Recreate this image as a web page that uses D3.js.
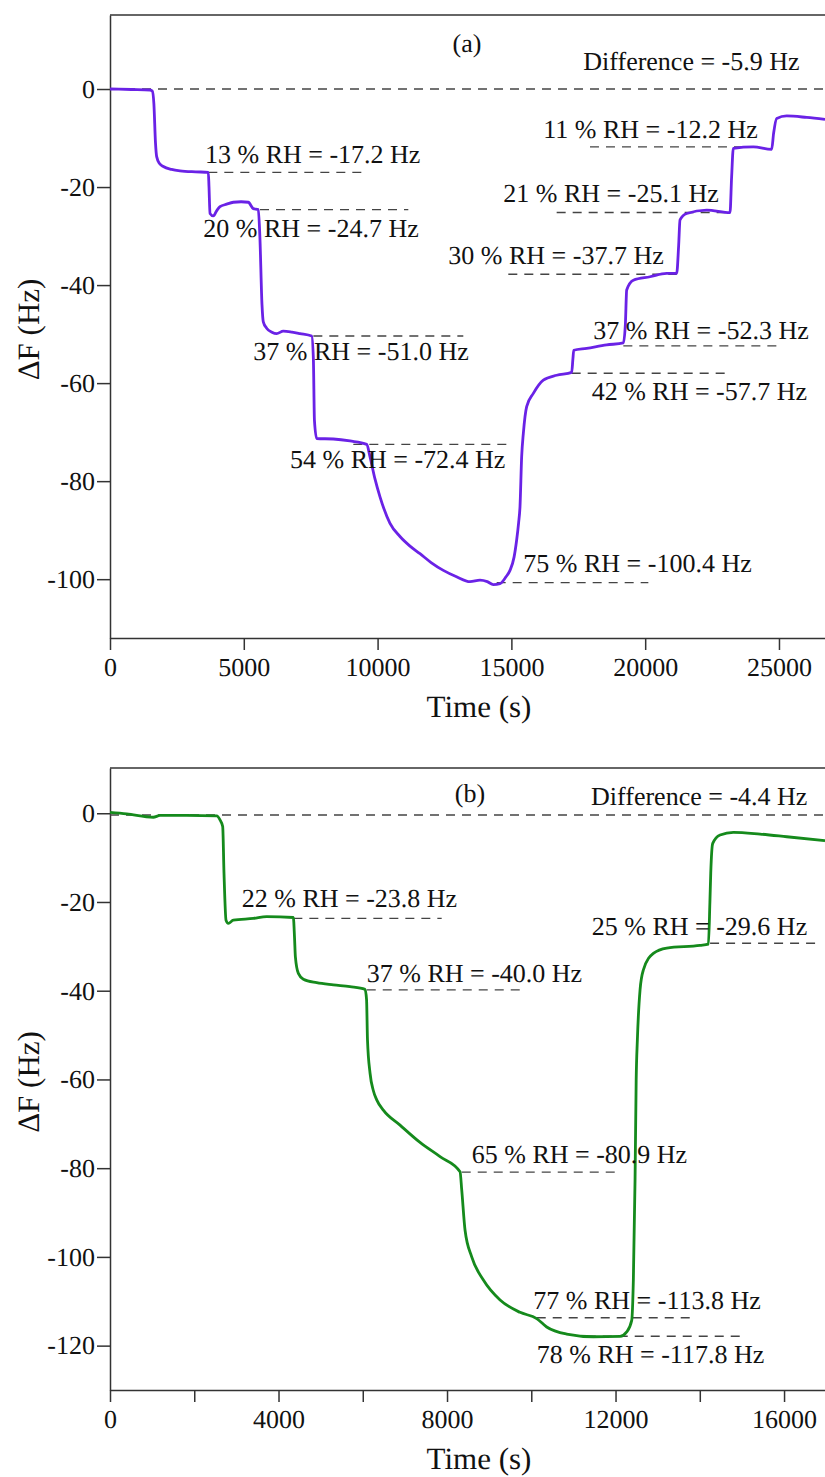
<!DOCTYPE html>
<html>
<head>
<meta charset="utf-8">
<script src="https://cdn.jsdelivr.net/npm/d3@7"></script>
<style>
  body { margin: 0; background: #fff; }
  svg { display: block; }
  svg text { font-family: "Liberation Serif", "DejaVu Serif", "Times New Roman", serif; fill: #111; }
  .axis path, .axis line { stroke: #333; stroke-width: 1.5; }
  .axis text { font-size: 26px; }
</style>
</head>
<body>
<div id="chart"></div>
<script>
// ---- panel (a) : time (s) vs frequency shift (Hz)
const timeA = [0, 800, 1500, 1580, 1640, 1700, 1744, 1850, 1993, 2300, 2616, 3200, 3674, 3700, 3737, 3861,
  3990, 4111, 4360, 4609, 4900, 5168, 5355, 5542, 5600, 5680, 5729, 5854, 6050, 6229, 6476, 6800, 7100,
  7537, 7600, 7640, 7724, 8346, 8969, 9593, 9716, 9900, 10090, 10464, 10837, 11200, 11585, 12000, 12457,
  12950, 13454, 13827, 14100, 14325, 14575, 14800, 14948, 15100, 15197, 15270, 15322, 15384, 15446, 15571,
  15820, 16193, 16692, 17253, 17300, 17330, 17813, 18561, 19184, 19260, 19309, 19558, 20181, 20804, 21178,
  21250, 21302, 21551, 22299, 23170, 23230, 23294, 24041, 24727, 24800, 24914, 25288, 26036, 26720]
const dfA = [0, -0.1, -0.2, -0.4, -3, -11, -13.8, -15.2, -15.8, -16.4, -16.7, -16.9, -17.0, -20, -25.4, -25.9,
  -24.8, -24.0, -23.5, -23.1, -23.0, -23.1, -24.4, -24.6, -30, -44, -47.5, -48.8, -49.6, -49.9, -49.4, -49.6, -49.9,
  -50.4, -55, -67.6, -71.3, -71.4, -71.8, -72.5, -75.0, -79.5, -83.2, -88.6, -91.3, -93.2, -94.8, -96.6, -98.2,
  -99.5, -100.5, -100.2, -100.5, -101.1, -100.9, -99.5, -98.2, -95.5, -92.0, -88.5, -85.2, -75.0, -70.3, -64.8,
  -62.1, -59.4, -58.4, -57.8, -55, -53.3, -52.9, -52.2, -51.8, -48, -41.0, -39.0, -38.3, -37.6, -37.6,
  -32, -26.7, -25.4, -24.7, -25.2, -18, -12.1, -11.8, -12.3, -9, -6.0, -5.5, -5.8, -6.2]

// ---- panel (b)
const timeB = [0, 395, 1028, 1187, 1820, 2533, 2611, 2675, 2706, 2754, 2809, 2928, 3403, 3719, 4352, 4380,
  4400, 4471, 4590, 4906, 5302, 5697, 6054, 6090, 6112, 6173, 6250, 6331, 6488, 6885, 7359, 7834, 8309,
  8349, 8428, 8586, 8863, 9259, 9733, 10129, 10366, 10841, 11474, 12107, 12265, 12384, 12423, 12463, 12490,
  12518, 12582, 12661, 12898, 13215, 14006, 14204, 14240, 14260, 14307, 14481, 14797, 15431, 16064, 16972]
const dfB = [0.2, -0.15, -0.9, -0.5, -0.5, -0.6, -1.5, -3.0, -13.5, -24.1, -24.8, -24.1, -23.7, -23.3, -23.5, -28,
  -32.3, -36.1, -37.4, -38.2, -38.7, -39.1, -39.7, -42, -51.1, -58.6, -62.5, -64.6, -66.9, -70.3, -74.2, -77.4, -80.8,
  -84.9, -94.0, -100.0, -105.2, -109.7, -112.5, -113.9, -115.8, -117.4, -118.0, -117.9, -116.9, -114.3, -105.2, -82.7, -60.1,
  -51.1, -39.8, -35.3, -31.6, -30.4, -29.8, -29.5, -20, -13.5, -6.8, -4.9, -4.3, -4.7, -5.3, -6.2]

// dashed reference levels: level (Hz), from t0 to t1 (s)
const refsA = [
  {v: 0, t0: 0, t1: 26720}, {v: -17.0, t0: 3674, t1: 9540}, {v: -24.6, t0: 5606, t1: 11148},
  {v: -50.4, t0: 7599, t1: 13203}, {v: -72.5, t0: 9093, t1: 14948}, {v: -100.7, t0: 14450, t1: 20118},
  {v: -58.0, t0: 17253, t1: 23045}, {v: -52.4, t0: 19184, t1: 24975}, {v: -37.8, t0: 14885, t1: 21178},
  {v: -25.2, t0: 16692, t1: 23170}, {v: -11.8, t0: 17937, t1: 23667}
]
const refsB = [
  {v: -0.4, t0: 0, t1: 16972}, {v: -23.7, t0: 4352, t1: 7873}, {v: -39.8, t0: 6094, t1: 9733},
  {v: -80.9, t0: 8349, t1: 12028}, {v: -113.7, t0: 10129, t1: 13848}, {v: -117.9, t0: 11316, t1: 14996},
  {v: -29.3, t0: 14244, t1: 16776}
]

// annotation text, anchored (left / baseline) at data point t, v
const notesA = [
  {text: "Difference = -5.9 Hz", t: 17687, v: 3.9},
  {text: "13 % RH = -17.2 Hz", t: 3550, v: -15.0},
  {text: "20 % RH = -24.7 Hz", t: 3487, v: -30.1},
  {text: "37 % RH = -51.0 Hz", t: 5355, v: -55.3},
  {text: "54 % RH = -72.4 Hz", t: 6727, v: -77.4},
  {text: "75 % RH = -100.4 Hz", t: 15445, v: -98.5},
  {text: "42 % RH = -57.7 Hz", t: 18000, v: -63.5},
  {text: "37 % RH = -52.3 Hz", t: 18061, v: -50.9},
  {text: "30 % RH = -37.7 Hz", t: 12642, v: -35.6},
  {text: "21 % RH = -25.1 Hz", t: 14698, v: -23.0},
  {text: "11 % RH = -12.2 Hz", t: 16193, v: -9.9}
]
const notesB = [
  {text: "Difference = -4.4 Hz", t: 11419, v: 1.9},
  {text: "22 % RH = -23.8 Hz", t: 3127, v: -21.1},
  {text: "37 % RH = -40.0 Hz", t: 6094, v: -38.0},
  {text: "25 % RH = -29.6 Hz", t: 11436, v: -27.4},
  {text: "65 % RH = -80.9 Hz", t: 8587, v: -78.8},
  {text: "77 % RH = -113.8 Hz", t: 10049, v: -111.8},
  {text: "78 % RH = -117.8 Hz", t: 10130, v: -124.0}
]

const ticksXA = [0, 5000, 10000, 15000, 20000, 25000]
const ticksYA = [0, -20, -40, -60, -80, -100]
const ticksXB = [0, 2000, 4000, 6000, 8000, 10000, 12000, 14000, 16000]
const ticksYB = [0, -20, -40, -60, -80, -100, -120]

const width = 825, height = 1477
const serif = "Liberation Serif, DejaVu Serif, Times New Roman, serif"

var svg = d3.select("#chart")
    .append("svg")
    .attr("width", width)
    .attr("height", height)
    .attr("text-rendering", "geometricPrecision")

function panel(cfg) {
    var x = d3.scaleLinear().domain(cfg.xDomain).range([110, 825])
    var y = d3.scaleLinear().domain(cfg.yDomain).range([cfg.bottom, cfg.top])
    var g = svg.append("g")

    // top frame line
    g.append("line")
        .attr("x1", 110).attr("x2", 825)
        .attr("y1", cfg.top).attr("y2", cfg.top)
        .attr("stroke", "#333").attr("stroke-width", 1.5)

    g.append("g")
        .attr("class", "axis")
        .attr("transform", `translate(0,${cfg.bottom})`)
        .call(d3.axisBottom(x).tickValues(cfg.xTicks).tickSize(12).tickSizeOuter(0).tickPadding(8)
            .tickFormat(d => cfg.xLabelEvery && d % cfg.xLabelEvery !== 0 ? "" : String(d)))
        .attr("font-family", serif)

    g.append("g")
        .attr("class", "axis")
        .attr("transform", "translate(110,0)")
        .call(d3.axisLeft(y).tickValues(cfg.yTicks).tickSize(13).tickSizeOuter(0).tickPadding(2)
            .tickFormat(d => String(d)))   // plain hyphen, like the original
        .attr("font-family", serif)

    // dashed levels
    g.append("g")
        .selectAll("line")
        .data(cfg.refs)
        .enter()
        .append("line")
        .attr("x1", d => x(d.t0))
        .attr("x2", d => x(d.t1))
        .attr("y1", d => y(d.v))
        .attr("y2", d => y(d.v))
        .attr("stroke", "#444")
        .attr("stroke-width", 1.4)
        .attr("stroke-dasharray", "9,7")

    var line = d3.line()
        .curve(d3.curveMonotoneX)
        .x(d => x(d[0]))
        .y(d => y(d[1]))

    g.append("path")
        .datum(d3.zip(cfg.time, cfg.df))
        .attr("fill", "none")
        .attr("stroke", cfg.color)
        .attr("stroke-width", 2.8)
        .attr("stroke-linejoin", "round")
        .attr("d", line)

    g.append("g")
        .selectAll("text")
        .data(cfg.notes)
        .enter()
        .append("text")
        .attr("x", d => x(d.t))
        .attr("y", d => y(d.v))
        .attr("font-family", serif)
        .attr("font-size", 26)
        .text(d => d.text)

    g.append("text")
        .attr("x", x(cfg.tag.t))
        .attr("y", y(cfg.tag.v))
        .attr("text-anchor", "middle")
        .attr("font-family", serif)
        .attr("font-size", 26)
        .text(cfg.tag.text)

    g.append("text")
        .attr("x", 479)
        .attr("y", cfg.bottom + 79)
        .attr("text-anchor", "middle")
        .attr("font-family", serif)
        .attr("font-size", 31)
        .text("Time (s)")

    g.append("text")
        .attr("transform", `translate(39,${(cfg.top + cfg.bottom) / 2 + 3}) rotate(-90)`)
        .attr("text-anchor", "middle")
        .attr("font-family", serif)
        .attr("font-size", 31)
        .text("ΔF (Hz)")
}

panel({
    top: 15, bottom: 638,
    xDomain: [0, 26720], yDomain: [-112, 15.1],
    xTicks: ticksXA, yTicks: ticksYA,
    time: timeA, df: dfA, refs: refsA, notes: notesA,
    tag: {text: "(a)", t: 13341, v: 7.6},
    color: "#6a22e6"
})

panel({
    top: 768, bottom: 1390,
    xDomain: [0, 16972], yDomain: [-130, 10.2],
    xTicks: ticksXB, yTicks: ticksYB, xLabelEvery: 4000,
    time: timeB, df: dfB, refs: refsB, notes: notesB,
    tag: {text: "(b)", t: 8546, v: 2.5},
    color: "#158a1c"
})
</script>
</body>
</html>
